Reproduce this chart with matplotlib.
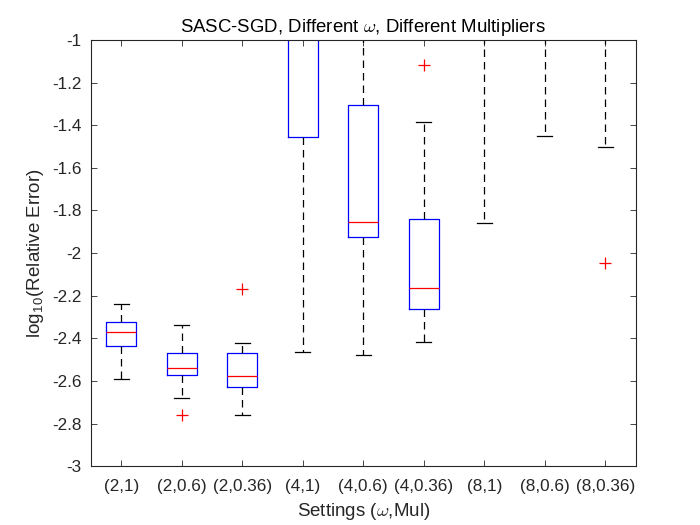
import matplotlib

matplotlib.use("Agg")
import matplotlib.pyplot as plt

# box statistics (log10 relative error)
labels = ["(2,1)", "(2,0.6)", "(2,0.36)", "(4,1)", "(4,0.6)", "(4,0.36)",
          "(8,1)", "(8,0.6)", "(8,0.36)"]
whislo = [-2.590, -2.681, -2.759, -2.463, -2.476, -2.416, -1.861, -1.451, -1.504]
q1 = [-2.437, -2.574, -2.628, -1.457, -1.925, -2.263, -0.70, -0.60, -0.65]
med = [-2.371, -2.541, -2.577, -0.80, -1.853, -2.163, -0.50, -0.40, -0.45]
q3 = [-2.322, -2.468, -2.471, -0.50, -1.304, -1.840, -0.30, -0.20, -0.25]
whishi = [-2.241, -2.337, -2.421, -0.20, -0.60, -1.383, -0.10, -0.05, -0.08]
fliers = [[], [-2.759], [-2.171], [], [], [-1.119], [], [], [-2.048]]

plt.rcParams["font.family"] = ["Liberation Sans", "DejaVu Sans"]
plt.rcParams["mathtext.fontset"] = "cm"

fg = "#262626"
fig = plt.figure(figsize=(7, 5.25), dpi=100)
ax = fig.add_axes([0.13, 0.112, 0.778, 0.812])

stats = []
for i in range(len(labels)):
    stats.append(
        dict(med=med[i], q1=q1[i], q3=q3[i], whislo=whislo[i],
             whishi=whishi[i], fliers=fliers[i], label=labels[i])
    )

ax.bxp(
    stats,
    positions=range(1, len(labels) + 1),
    widths=0.5,
    showcaps=True,
    capwidths=0.25,
    boxprops=dict(color="#0000ff", linewidth=0.9),
    medianprops=dict(color="#ff0000", linewidth=0.9),
    whiskerprops=dict(color="black", linewidth=0.9, linestyle=(0, (6, 4))),
    capprops=dict(color="black", linewidth=0.9),
    flierprops=dict(marker="+", markeredgecolor="#ff0000", markersize=8,
                    markeredgewidth=0.9, linestyle="none"),
)

ax.set_xlim(0.5, len(labels) + 0.5)
ax.set_ylim(-3, -1)
yt = [-3 + 0.2 * k for k in range(11)]
ax.set_yticks(yt)
ax.set_yticklabels([f"{v:.1f}".rstrip("0").rstrip(".") for v in yt])
ax.set_xticks(range(1, len(labels) + 1))
ax.set_xticklabels(labels)

ax.tick_params(direction="in", top=True, right=True, length=4, width=0.6,
               colors=fg, labelsize=12.3)
ax.tick_params(axis="x", pad=9)
ax.tick_params(axis="y", pad=7)
for sp in ax.spines.values():
    sp.set_color(fg)
    sp.set_linewidth(0.8)

ax.set_title(r"SASC-SGD, Different $\omega$, Different Multipliers",
             fontsize=13.4, color="black", pad=6)
ax.set_xlabel(r"Settings ($\omega$,Mul)", fontsize=13.5, color=fg, labelpad=5)
ax.set_ylabel(r"log$_{\mathregular{10}}$(Relative Error)", fontsize=13.5, color=fg)

fig.savefig("out.png", dpi=100, facecolor="white")
